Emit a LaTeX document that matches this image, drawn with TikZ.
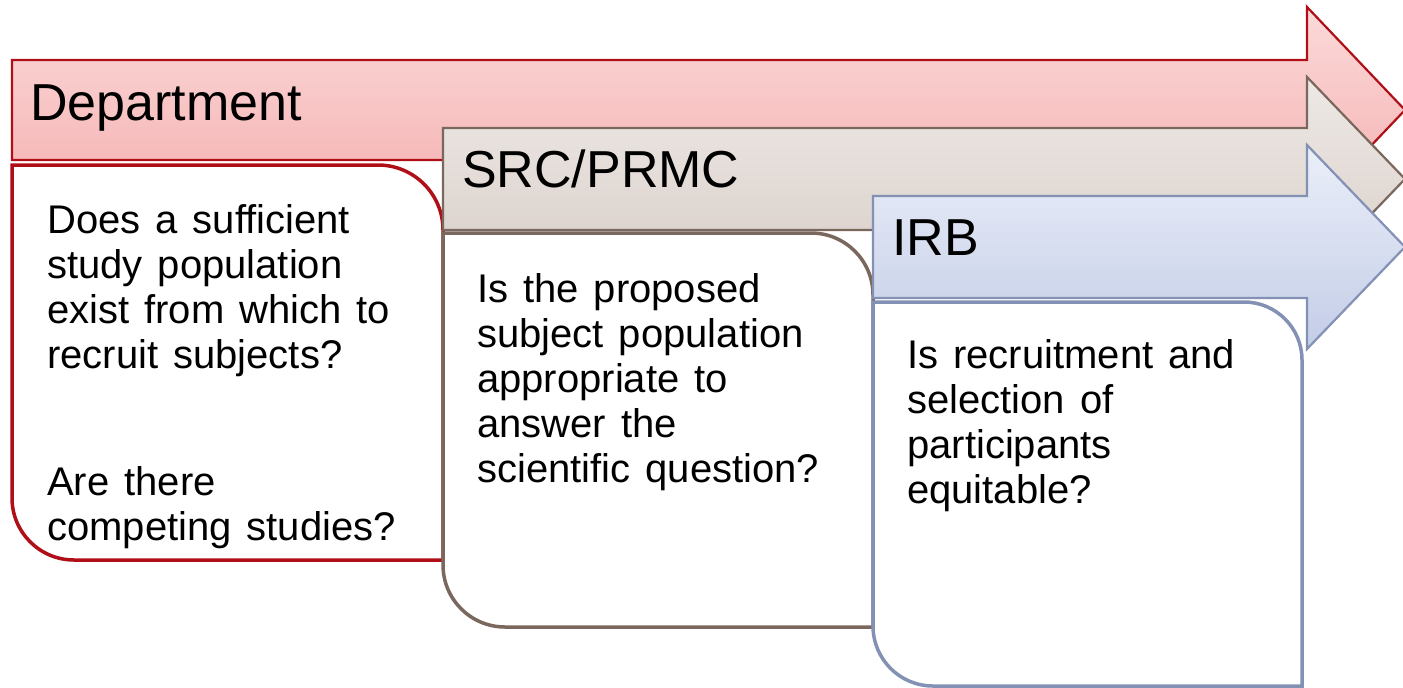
\documentclass[tikz,border=0pt]{standalone}
\usepackage{fontspec}
\setmainfont{Liberation Sans}
\newfontfamily\bodyfam[WordSpace={1.35,0,0}]{Liberation Sans}
\definecolor{redline}{HTML}{B00F18}
\definecolor{redtop}{HTML}{FCDADA}
\definecolor{redbot}{HTML}{F4AEAE}
\definecolor{brline}{HTML}{7A675D}
\definecolor{brtop}{HTML}{EEE9E6}
\definecolor{brbot}{HTML}{D8CEC8}
\definecolor{blline}{HTML}{8391B4}
\definecolor{bltop}{HTML}{EBEFF9}
\definecolor{blbot}{HTML}{C3CDE7}
\begin{document}
\begin{tikzpicture}[x=1pt,y=-1pt,
  arrowR/.style={draw=redline, line width=2.2pt, top color=redtop, bottom color=redbot},
  arrowB/.style={draw=brline, line width=2.2pt, top color=brtop, bottom color=brbot},
  arrowL/.style={draw=blline, line width=2.2pt, top color=bltop, bottom color=blbot},
  boxR/.style={draw=redline, line width=3.5pt, fill=white},
  boxB/.style={draw=brline, line width=3.5pt, fill=white},
  boxL/.style={draw=blline, line width=3.5pt, fill=white},
  hdr/.style={anchor=base west, inner sep=0pt, font=\fontsize{52}{60}\selectfont},
  body/.style={anchor=base west, inner sep=0pt, font=\bodyfam\fontsize{40}{46}\selectfont},
]
\useasboundingbox (0,0) rectangle (1403,688);
\fill[white] (0,0) rectangle (1403,688);

% Department arrow and box
\path[arrowR] (12,60) -- (1307,60) -- (1307,7) -- (1405,110) -- (1307,213) -- (1307,160) -- (12,160) -- cycle;
\path[boxR] (12,165) -- (378,165) arc[start angle=90,end angle=0,radius=65pt] -- (443,560) -- (74,560) arc[start angle=270,end angle=180,radius=62pt] -- cycle;

% SRC/PRMC arrow and box
\path[arrowB] (443,128) -- (1307,128) -- (1307,77) -- (1405,179) -- (1307,281) -- (1307,230) -- (443,230) -- cycle;
\path[boxB] (443,233) -- (811,233) arc[start angle=90,end angle=0,radius=62pt] -- (873,627) -- (505,627) arc[start angle=270,end angle=180,radius=62pt] -- cycle;

% IRB arrow and box
\path[arrowL] (873,196) -- (1307,196) -- (1307,145) -- (1405,247) -- (1307,349) -- (1307,298) -- (873,298) -- cycle;
\path[boxL] (873,302) -- (1244,302) arc[start angle=90,end angle=0,radius=58pt] -- (1302,686) -- (933,686) arc[start angle=270,end angle=180,radius=60pt] -- cycle;

% Headers
\node[hdr] (hdep) at (30,120) {Department};
\node[hdr] (hsrc) at (462,187) {SRC/PRMC};
\node[hdr] (hirb) at (892,255) {IRB};

% Department text
\node[body] (d1) at (47,233) {Does a sufficient};
\node[body] (d2) at (47,278) {study population};
\node[body] (d3) at (47,323) {exist from which to};
\node[body] (d4) at (47,368) {recruit subjects?};
\node[body] (d5) at (47,495) {Are there};
\node[body] (d6) at (47,540) {competing studies?};

% SRC/PRMC text
\node[body] (s1) at (477,302) {Is the proposed};
\node[body] (s2) at (477,347) {subject population};
\node[body] (s3) at (477,392) {appropriate to};
\node[body] (s4) at (477,437) {answer the};
\node[body] (s5) at (477,482) {scientific question?};

% IRB text
\node[body] (i1) at (907,368) {Is recruitment and};
\node[body] (i2) at (907,413) {selection of};
\node[body] (i3) at (907,458) {participants};
\node[body] (i4) at (907,503) {equitable?};
\end{tikzpicture}
\end{document}
